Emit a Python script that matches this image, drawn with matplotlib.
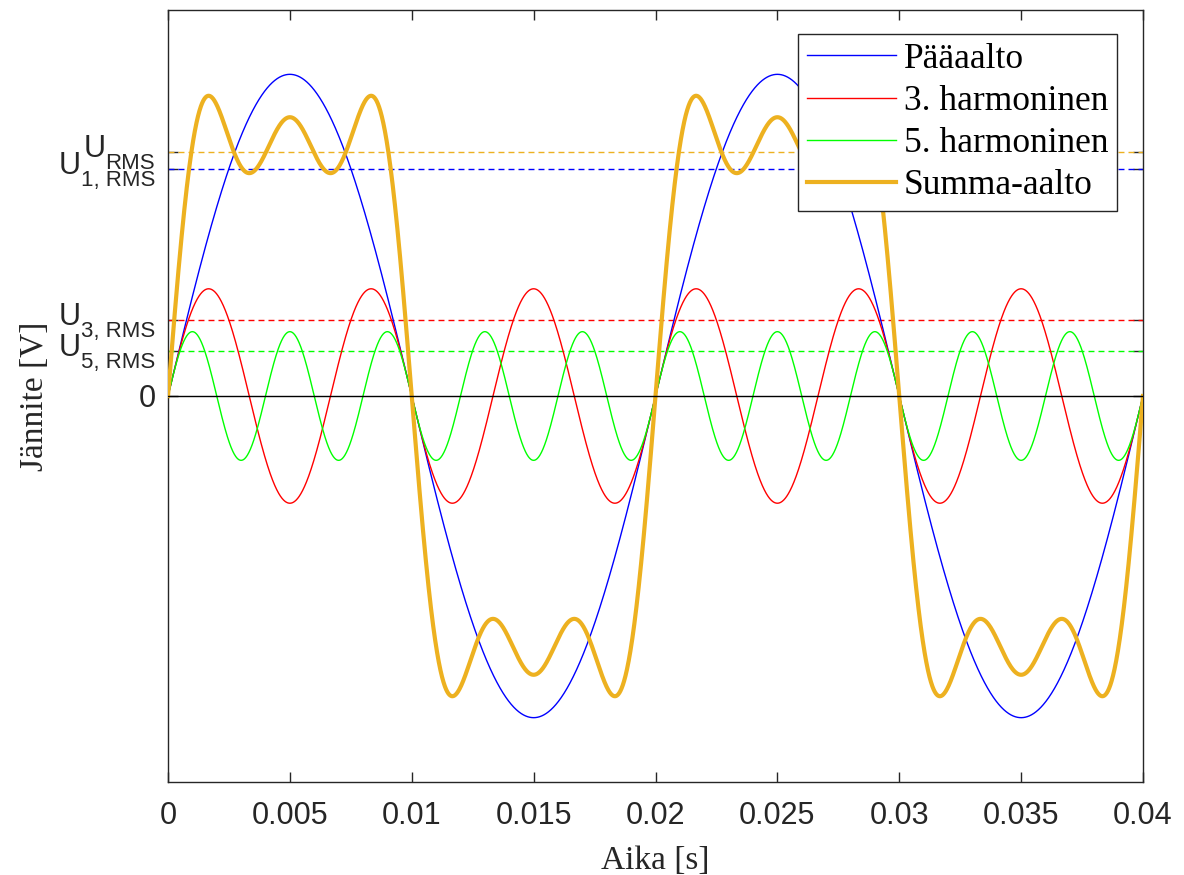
import numpy as np
import matplotlib
matplotlib.use("Agg")
import matplotlib.pyplot as plt
from matplotlib.transforms import ScaledTranslation

# Signal definition: a 50 Hz fundamental with its 3rd and 5th harmonics
frequency = 50.0
orders = [1, 3, 5]
amplitudes = [1.0, 1 / 3, 1 / 5]
series_labels = ["Pääaalto", "3. harmoninen", "5. harmoninen", "Summa-aalto"]
series_colors = ["#0000FF", "#FF0000", "#00FF00", "#EDB120"]
x_ticks = [0, 0.005, 0.01, 0.015, 0.02, 0.025, 0.03, 0.035, 0.04]
x_tick_labels = ["0", "0.005", "0.01", "0.015", "0.02", "0.025", "0.03", "0.035", "0.04"]
rms_subscripts = ["1, RMS", "3, RMS", "5, RMS", "RMS"]

t = np.linspace(0, 0.04, 4001)
components = [a * np.sin(2 * np.pi * n * frequency * t) for n, a in zip(orders, amplitudes)]
total = np.sum(components, axis=0)

rms_parts = [a / np.sqrt(2) for a in amplitudes]
rms_total = float(np.sqrt(np.sum(np.square(rms_parts))))
rms_levels = rms_parts + [rms_total]

DPI = 100
fig = plt.figure(figsize=(11.84, 8.75), dpi=DPI)
ax = fig.add_axes([168 / 1184, 93 / 875, 975 / 1184, 772 / 875])

lines = []
for comp, col, lab in zip(components, series_colors[:3], series_labels[:3]):
    ln, = ax.plot(t, comp, color=col, lw=1.0, label=lab, zorder=3)
    lines.append(ln)
ln, = ax.plot(t, total, color=series_colors[3], lw=3.0, label=series_labels[3], zorder=3)
lines.append(ln)

# RMS reference levels
for val, col in zip(rms_levels, series_colors):
    ax.axhline(val, color=col, lw=1.0, ls=(0, (4.3, 2.9)), zorder=2)
ax.axhline(0, color="black", lw=1.0, zorder=4)

ax.set_xlim(0, 0.04)
ax.set_ylim(-1.2, 1.2)
ax.set_xticks(x_ticks)
ax.set_xticklabels(x_tick_labels)
ax.set_yticks([0] + rms_levels)
ax.set_yticklabels(["0"] + [""] * len(rms_levels))

tick_color = "#262626"
ax.tick_params(axis="both", direction="in", length=7, width=1.0, color=tick_color,
               labelcolor=tick_color, top=True, right=True, labelsize=22)
ax.tick_params(axis="x", pad=14)
ax.tick_params(axis="y", pad=9)
for lab in ax.get_xticklabels() + ax.get_yticklabels():
    lab.set_fontfamily("Liberation Sans")
for sp in ax.spines.values():
    sp.set_color(tick_color)
    sp.set_linewidth(1.0)

# Subscripted RMS tick labels: "U" with a lowered subscript, right-aligned to the axis
renderer = fig.canvas.get_renderer()
ytrans = ax.get_yaxis_transform()
for val, sub in zip(rms_levels, rms_subscripts):
    st = ax.text(0, val, sub, ha="right", va="baseline", fontsize=16,
                 family="Liberation Sans", color=tick_color, clip_on=False,
                 transform=ytrans + ScaledTranslation(-13 / DPI, -17 / DPI, fig.dpi_scale_trans))
    w = st.get_window_extent(renderer).width
    ax.text(0, val, "U", ha="right", va="baseline", fontsize=22,
            family="Liberation Sans", color=tick_color, clip_on=False,
            transform=ytrans + ScaledTranslation((-13 - w) / DPI, -5 / DPI, fig.dpi_scale_trans))

ax.set_xlabel("Aika [s]", family="Liberation Serif", fontsize=24, color=tick_color, labelpad=10)
ax.set_ylabel("Jännite [V]", family="Liberation Serif", fontsize=24, color=tick_color)
ax.yaxis.set_label_coords((50 - 168) / 975, 0.5)

leg = ax.legend(handles=lines, loc="upper right",
                bbox_to_anchor=(1 - 26 / 975, 1 - 24 / 772),
                borderaxespad=0, fancybox=False, framealpha=1, edgecolor=tick_color,
                prop={"family": "Liberation Serif", "size": 25.5},
                handlelength=2.5, handletextpad=0.22, labelspacing=0.26, borderpad=0.25)
leg.get_frame().set_linewidth(1.0)
leg.set_zorder(10)

fig.savefig("out.png", dpi=DPI)
